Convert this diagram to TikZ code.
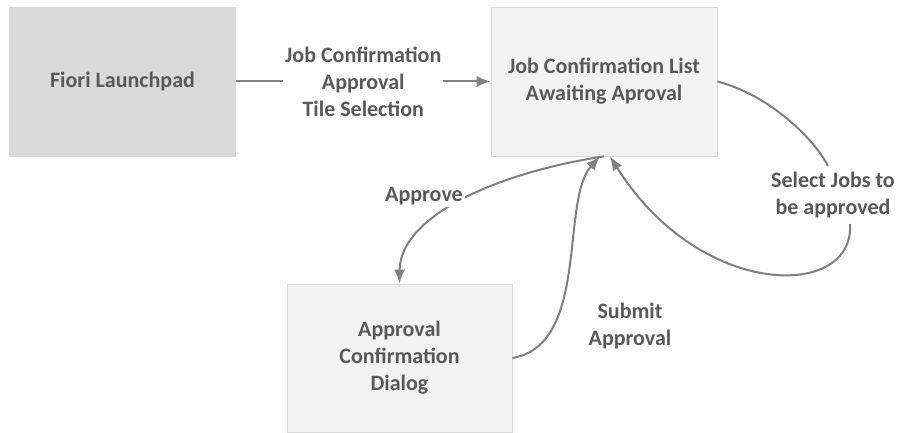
\documentclass[tikz,border=0pt]{standalone}
\usepackage{fontspec}
\setmainfont{Carlito}
\usetikzlibrary{arrows.meta}
\definecolor{txtgray}{HTML}{595959}
\definecolor{linegray}{HTML}{808080}
\definecolor{boxgray}{HTML}{F2F2F2}
\definecolor{padgray}{HTML}{D9D9D9}
\tikzset{
  screen/.style={minimum width=226pt, minimum height=149pt, align=center,
    fill=boxgray, draw=padgray, line width=0.8pt,
    font=\bfseries\fontsize{22}{27}\selectfont, text=txtgray},
  lbl/.style={fill=white, align=center, inner sep=2pt,
    font=\bfseries\fontsize{22}{27}\selectfont, text=txtgray},
  link/.style={draw=linegray, line width=2pt}
}
\begin{document}
\begin{tikzpicture}[x=1pt, y=-1pt, >={Latex[length=14pt,width=11pt]}]
\useasboundingbox (0,0) rectangle (905,433);
% screens
\node[screen, fill=padgray, draw=padgray] (fiori) at (122.5,81.5) {Fiori Launchpad};
\node[screen] (jcl) at (604,81.5) {Job Confirmation List\\Awaiting Aproval};
\node[screen, minimum width=225pt, minimum height=148pt] (dlg) at (399.5,358) {Approval\\Confirmation\\Dialog};
\coordinate (selin) at (828,166);
\coordinate (selout) at (850,224);
% flows
\draw[link,->] (fiori) -- node[lbl]{Job Confirmation\\Approval\\Tile Selection} (jcl);
\draw[link,->] (jcl.south) .. controls (500,172) and (400,215) .. (dlg.north);
\draw[link,->] (dlg.east) .. controls (590,345) and (560,200) .. ([xshift=-4pt]jcl.south);
\draw[link] (jcl.east) .. controls (770,95) and (815,140) .. (selin);
\draw[link,->] (selout) .. controls (855,300) and (700,300) .. ([xshift=6pt]jcl.south);
% labels
\node[lbl, inner sep=1pt] (sel) at (833,195) {Select Jobs to\\be approved};
\node[lbl] (app) at (424,196) {Approve};
\node[lbl, fill=none] (sub) at (630,326) {Submit\\Approval};
\end{tikzpicture}
\end{document}
